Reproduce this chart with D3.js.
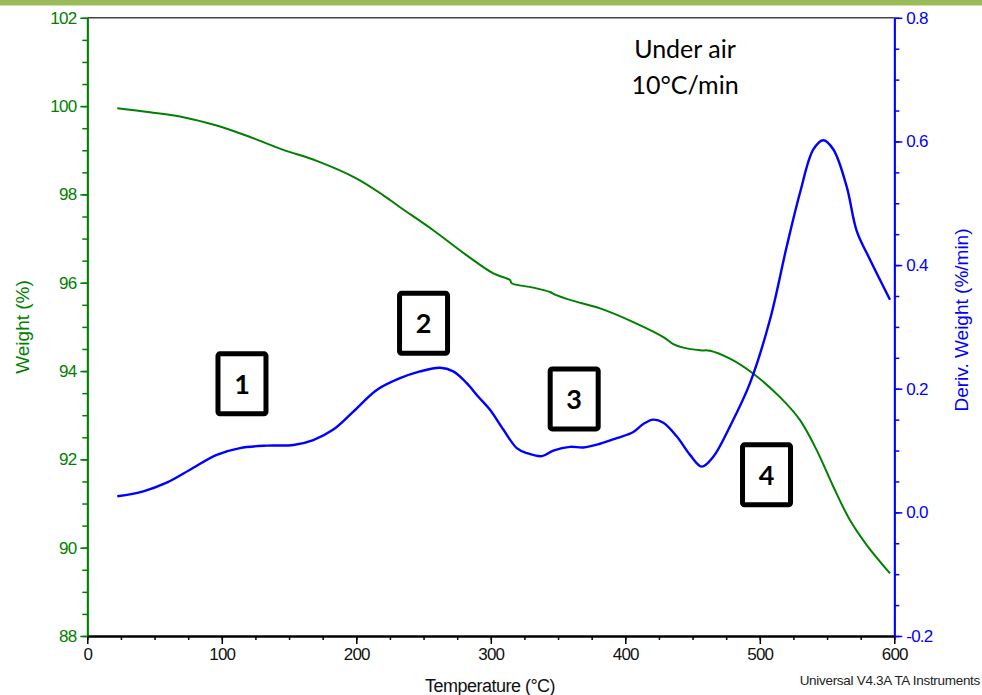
<!DOCTYPE html>
<html>
<head>
<meta charset="utf-8">
<script src="https://cdn.jsdelivr.net/npm/d3@7"></script>
<style>
  html, body { margin: 0; padding: 0; background: #fff; }
  svg { display: block; }
</style>
</head>
<body>
<svg id="chart" width="982" height="695"></svg>
<script>
// TGA weight curve (temperature °C, weight %)
const weightTemp = [22.3, 46.6, 71.4, 96.2, 121.0, 145.7, 170.6, 200.3, 220.1, 232.5, 257.2, 282.1, 301.9, 314.3, 315.5, 331.6, 344.0, 347.7, 360.1, 381.2, 405.9, 428.3, 435.7, 443.1, 455.5, 463.0, 477.8, 495.2, 515.0, 529.9, 542.3, 554.7, 567.1, 579.5, 596.8];
const weightPct  = [99.95, 99.86, 99.75, 99.56, 99.30, 99.01, 98.76, 98.36, 97.98, 97.71, 97.19, 96.62, 96.21, 96.06, 95.99, 95.89, 95.79, 95.73, 95.60, 95.42, 95.11, 94.77, 94.61, 94.53, 94.47, 94.46, 94.28, 93.94, 93.41, 92.89, 92.21, 91.38, 90.62, 90.06, 89.42];

// DTG derivative curve (temperature °C, %/min)
const derivTemp = [22.3, 41.6, 59.0, 76.4, 96.2, 113.5, 133.4, 153.2, 168.0, 182.9, 197.8, 215.2, 232.5, 247.4, 262.2, 272.1, 282.1, 290.7, 299.4, 309.3, 319.3, 326.7, 337.9, 346.5, 358.9, 368.8, 381.2, 393.6, 406.0, 413.4, 420.8, 428.3, 438.2, 448.1, 456.8, 465.4, 477.8, 492.7, 507.6, 520.0, 529.9, 539.8, 547.2, 554.7, 564.6, 572.1, 581.9, 596.8];
const derivVal  = [0.026, 0.034, 0.048, 0.069, 0.093, 0.104, 0.108, 0.109, 0.117, 0.134, 0.163, 0.198, 0.217, 0.228, 0.234, 0.228, 0.209, 0.187, 0.166, 0.134, 0.104, 0.096, 0.091, 0.100, 0.106, 0.105, 0.111, 0.120, 0.130, 0.143, 0.150, 0.145, 0.123, 0.093, 0.074, 0.090, 0.139, 0.209, 0.312, 0.430, 0.517, 0.587, 0.602, 0.587, 0.527, 0.455, 0.409, 0.344];

// Axis ticks
const tempTicks = [0, 100, 200, 300, 400, 500, 600];
const weightTicks = [88, 90, 92, 94, 96, 98, 100, 102];
const derivTicks = [-0.2, 0.0, 0.2, 0.4, 0.6, 0.8];

// Numbered decomposition stages
const stageLabels = ["1", "2", "3", "4"];
const stageTemp = [115, 250, 362, 505];
const stageWeight = [93.71, 95.08, 93.37, 91.65];

const GREEN = "#008000";
const BLUE = "#0000ff";

const svg = d3.select("#chart");
const plotLeft = 87.3, plotRight = 894.3, plotTop = 17.8, plotBottom = 636;

const x = d3.scaleLinear().domain([0, 600]).range([plotLeft, plotRight]);
const yW = d3.scaleLinear().domain([88, 102]).range([plotBottom, plotTop]);
const yD = d3.scaleLinear().domain([-0.2, 0.8]).range([plotBottom, plotTop]);

// header band
svg.append("rect").attr("x", 0).attr("y", 0).attr("width", 982).attr("height", 5.5).attr("fill", "#9bbb59");

// top frame line
svg.append("line").attr("x1", plotLeft).attr("x2", plotRight).attr("y1", plotTop).attr("y2", plotTop)
  .attr("stroke", "#444").attr("stroke-width", 1.5);

const tickFont = "'Liberation Sans', Arial, sans-serif";

function styleAxis(g, color) {
  g.selectAll("path.domain").attr("stroke", color).attr("stroke-width", 1.8);
  g.selectAll(".tick line").attr("stroke", color).attr("stroke-width", 1.5);
  g.selectAll(".tick text").attr("fill", color)
    .style("font-family", tickFont).style("font-size", "17px").style("letter-spacing", "-0.8px");
}

// minor ticks
const minorX = d3.range(0, 601, 25);
const minorW = d3.range(88, 102.01, 0.5);
const minorD = d3.range(-0.2, 0.801, 0.05);

svg.append("g").attr("transform", `translate(0,${plotBottom})`)
  .call(d3.axisBottom(x).tickValues(minorX).tickSize(4).tickFormat("").tickSizeOuter(0))
  .call(g => styleAxis(g, "#000"));
svg.append("g").attr("transform", `translate(${plotLeft},0)`)
  .call(d3.axisLeft(yW).tickValues(minorW).tickSize(5).tickFormat("").tickSizeOuter(0))
  .call(g => styleAxis(g, GREEN));
svg.append("g").attr("transform", `translate(${plotRight},0)`)
  .call(d3.axisRight(yD).tickValues(minorD).tickSize(5).tickFormat("").tickSizeOuter(0))
  .call(g => styleAxis(g, BLUE));

// major ticks with labels
svg.append("g").attr("transform", `translate(0,${plotBottom})`)
  .call(d3.axisBottom(x).tickValues(tempTicks).tickSize(8).tickPadding(4).tickSizeOuter(0))
  .call(g => styleAxis(g, "#000"))
  .call(g => g.selectAll(".tick text").attr("fill", "#111"));
svg.append("g").attr("transform", `translate(${plotLeft},0)`)
  .call(d3.axisLeft(yW).tickValues(weightTicks).tickSize(7).tickPadding(4).tickSizeOuter(0))
  .call(g => styleAxis(g, GREEN));
svg.append("g").attr("transform", `translate(${plotRight},0)`)
  .call(d3.axisRight(yD).tickValues(derivTicks).tickSize(8).tickPadding(4).tickSizeOuter(0)
    .tickFormat(d => d.toFixed(1)))
  .call(g => styleAxis(g, BLUE));

// axis titles
svg.append("text").attr("x", 490).attr("y", 692)
  .attr("text-anchor", "middle").attr("fill", "#111")
  .style("font-family", tickFont).style("font-size", "18px").style("letter-spacing", "-0.5px")
  .text("Temperature (°C)");
svg.append("text").attr("transform", "translate(29,327) rotate(-90)")
  .attr("text-anchor", "middle").attr("fill", GREEN)
  .style("font-family", tickFont).style("font-size", "19px")
  .text("Weight (%)");
svg.append("text").attr("transform", "translate(968,320) rotate(-90)")
  .attr("text-anchor", "middle").attr("fill", BLUE)
  .style("font-family", tickFont).style("font-size", "19px")
  .text("Deriv. Weight (%/min)");

svg.append("text").attr("x", 980).attr("y", 685).attr("text-anchor", "end").attr("fill", "#222")
  .style("font-family", tickFont).style("font-size", "13.5px").style("letter-spacing", "-0.3px")
  .text("Universal V4.3A TA Instruments");

// curves
const weightData = weightTemp.map((t, i) => [t, weightPct[i]]);
const derivData = derivTemp.map((t, i) => [t, derivVal[i]]);

svg.append("path").datum(weightData)
  .attr("fill", "none").attr("stroke", GREEN).attr("stroke-width", 2)
  .attr("d", d3.line().x(d => x(d[0])).y(d => yW(d[1])).curve(d3.curveCatmullRom.alpha(0.5)));

svg.append("path").datum(derivData)
  .attr("fill", "none").attr("stroke", BLUE).attr("stroke-width", 2.4)
  .attr("d", d3.line().x(d => x(d[0])).y(d => yD(d[1])).curve(d3.curveCatmullRom.alpha(0.5)));

// stage boxes
const stages = svg.append("g").selectAll("g").data(stageLabels).join("g")
  .attr("transform", (d, i) => `translate(${x(stageTemp[i])},${yW(stageWeight[i])})`);
stages.append("rect").attr("x", -24).attr("y", -30).attr("width", 48).attr("height", 60)
  .attr("rx", 2).attr("fill", "#fff").attr("stroke", "#000").attr("stroke-width", 5);
stages.append("text").attr("text-anchor", "middle").attr("dy", "0.36em")
  .style("font-family", "Lato, 'Open Sans', sans-serif").style("font-weight", "bold").style("font-size", "27px")
  .attr("fill", "#000").text(d => d);

// conditions note
const note = svg.append("text").attr("text-anchor", "middle").attr("fill", "#000")
  .style("font-family", "Lato, 'Open Sans', sans-serif").style("font-size", "25px");
note.append("tspan").attr("x", 685).attr("y", 58).text("Under air");
note.append("tspan").attr("x", 685).attr("y", 94).text("10°C/min");
</script>
</body>
</html>
